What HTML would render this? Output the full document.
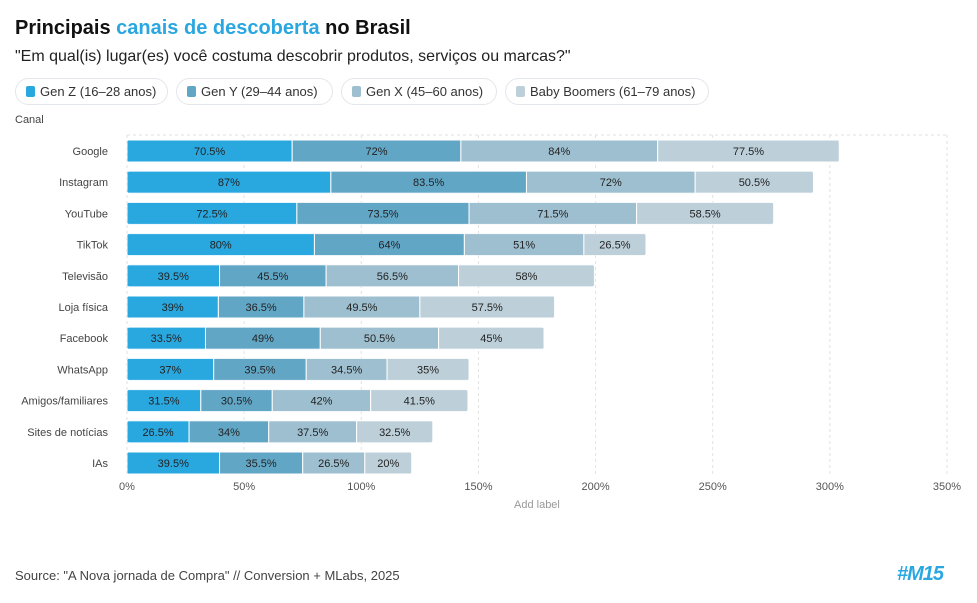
<!DOCTYPE html>
<html><head><meta charset="utf-8"><style>
body{margin:0;width:977px;height:603px;background:#fff;font-family:"Liberation Sans",sans-serif;position:relative;overflow:hidden}
.t{position:absolute;white-space:nowrap}
.leg{position:absolute;top:78px;height:27px;border:1px solid #e3e6ea;border-radius:14px;box-sizing:border-box;font-size:13px;color:#333;line-height:25px;padding-left:24px}
.leg i{position:absolute;left:10px;top:7px;width:9px;height:11px;border-radius:2px}
</style></head><body>
<div class="t" style="left:15px;top:17px;font-size:20px;font-weight:bold;color:#111">Principais <span style="color:#2aa7e0">canais de descoberta</span> no Brasil</div>
<div class="t" style="left:15px;top:48px;font-size:16px;color:#222">"Em qual(is) lugar(es) você costuma descobrir produtos, serviços ou marcas?"</div>
<div class="leg" style="left:15px;width:153px"><i style="background:#29a8e0"></i>Gen Z (16–28 anos)</div>
<div class="leg" style="left:176px;width:157px"><i style="background:#62a6c6"></i>Gen Y (29–44 anos)</div>
<div class="leg" style="left:341px;width:156px"><i style="background:#9dbfcf"></i>Gen X (45–60 anos)</div>
<div class="leg" style="left:505px;width:204px"><i style="background:#bdd0da"></i>Baby Boomers (61–79 anos)</div>
<div class="t" style="left:15px;top:114px;font-size:11px;color:#444">Canal</div>
<svg id="c" width="977" height="603" style="position:absolute;left:0;top:0"></svg>
<div class="t" style="left:514px;top:499px;font-size:11px;color:#999">Add label</div>
<div class="t" style="left:15px;top:568px;font-size:13px;color:#444">Source: "A Nova jornada de Compra" // Conversion + MLabs, 2025</div>
<div class="t" style="left:897px;top:563px;font-size:20px;font-weight:900;color:#2aa7e0;font-style:italic;letter-spacing:-1px">#M15</div>
<script>
const categories=["Google","Instagram","YouTube","TikTok","Televisão","Loja física","Facebook","WhatsApp","Amigos/familiares","Sites de notícias","IAs"];
const genZ=[70.5,87,72.5,80,39.5,39,33.5,37,31.5,26.5,39.5];
const genY=[72,83.5,73.5,64,45.5,36.5,49,39.5,30.5,34,35.5];
const genX=[84,72,71.5,51,56.5,49.5,50.5,34.5,42,37.5,26.5];
const boomers=[77.5,50.5,58.5,26.5,58,57.5,45,35,41.5,32.5,20];
const ticks=[0,50,100,150,200,250,300,350];
const series=[genZ,genY,genX,boomers];
const colors=["#29a8e0","#62a6c6","#9dbfcf","#bdd0da"];
const names=["gen-z","gen-y","gen-x","boomers"];
const NS="http://www.w3.org/2000/svg";
const svg=document.getElementById('c');
const x=v=>127+v*820/350;
const y=i=>151+i*31.2;
function mk(t,a){const e=document.createElementNS(NS,t);for(const k in a)e.setAttribute(k,a[k]);svg.appendChild(e);return e;}
// grid
ticks.forEach(t=>{
 const g=mk('line',{x1:x(t),x2:x(t),y1:135,y2:475,stroke:'#e2e2e2','stroke-dasharray':'3,3'});
 
 
 const l=mk('text',{x:x(t),y:490,'text-anchor':'middle','font-size':11,fill:'#555','font-family':'Liberation Sans'});
 l.textContent=t+'%';
 
 
});
mk('line',{x1:127,x2:947,y1:135,y2:135,stroke:'#e2e2e2','stroke-dasharray':'3,3'});
categories.forEach((c,i)=>{
 const l=mk('text',{x:108,y:y(i)+4,'text-anchor':'end','font-size':11,fill:'#444','font-family':'Liberation Sans'});
 l.textContent=c;
 
 
 let acc=0;
 const tot=series.reduce((s,a)=>s+a[i],0);
 const cp=mk('clipPath',{id:'cp'+i});
 const cr=document.createElementNS(NS,'rect');
 cr.setAttribute('x',x(0));cr.setAttribute('y',y(i)-11);cr.setAttribute('width',x(tot)-x(0));cr.setAttribute('height',22);cr.setAttribute('rx',3);
 cp.appendChild(cr);
 series.forEach((s,k)=>{
  const v=s[i];
  const r=mk('rect',{x:x(acc),y:y(i)-11,width:x(acc+v)-x(acc),height:22,fill:colors[k],stroke:'#fff','stroke-width':1,'clip-path':'url(#cp'+i+')'});
  
  
  const tx=mk('text',{x:(x(acc)+x(acc+v))/2,y:y(i)+4,'text-anchor':'middle','font-size':11,fill:'#222','font-family':'Liberation Sans'});
  tx.textContent=v+'%';
  
  
  acc+=v;
 });
});
</script>
</body></html>
